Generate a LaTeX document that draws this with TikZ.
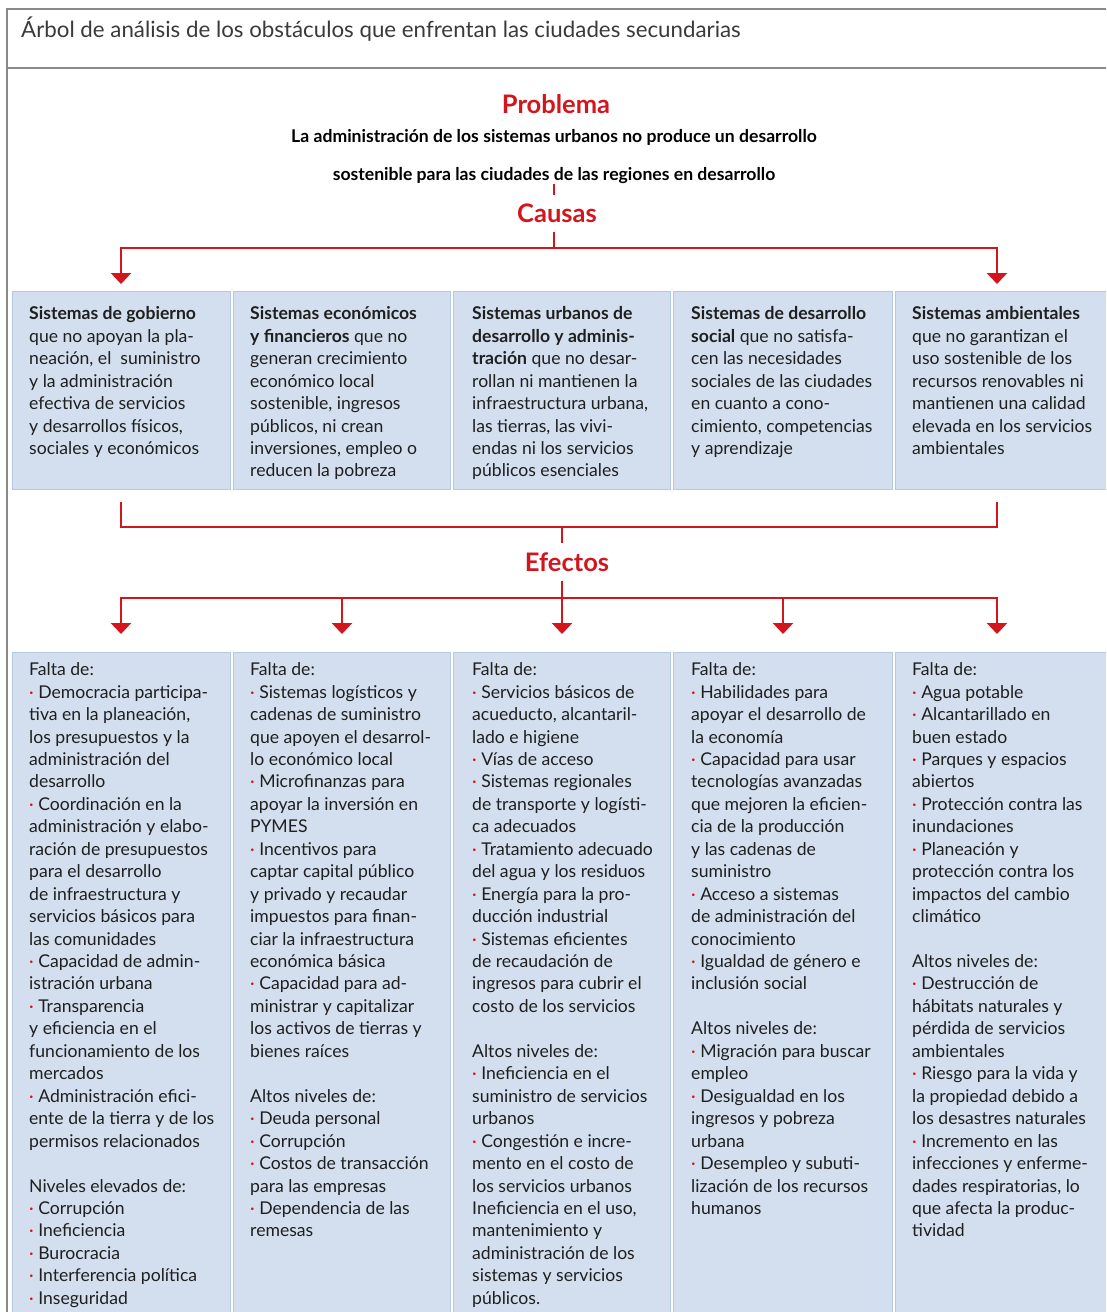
\documentclass[tikz,border=0pt]{standalone}
\usepackage{fontspec}
\setmainfont{Lato}
\usetikzlibrary{arrows.meta}
\definecolor{cred}{HTML}{D2161E}
\definecolor{cfill}{HTML}{D3DFEE}
\definecolor{cedge}{HTML}{B5C9E2}
\definecolor{cframe}{HTML}{8A8A8A}
\definecolor{ctitle}{HTML}{3A3A3A}
\newcommand{\bul}{\textcolor{cred}{·}~}
\begin{document}
\begin{tikzpicture}[x=1pt,y=-1pt,
  frameline/.style={draw=cframe, line width=1.4pt},
  colbox/.style={draw=cedge, fill=cfill, line width=1.3pt, inner sep=0pt, anchor=north west},
  coltext/.style={anchor=north west, inner sep=0pt, align=left, text=black!88, font=\fontsize{17.6}{22.45}\selectfont},
  redline/.style={draw=cred, line width=2.6pt},
  redarrow/.style={redline, -{Triangle[width=20pt,length=11pt]}},
  heading/.style={text=cred, font=\bfseries\fontsize{25.5}{28}\selectfont, inner sep=0pt, text height=18pt, text depth=0pt, minimum height=37pt}
]
\useasboundingbox (0,0) rectangle (1106,1312);
\clip (0,0) rectangle (1106,1312);
\fill[white] (0,0) rectangle (1106,1312);
% frame
\draw[frameline] (1110,9) -- (7,9) -- (7,1320);
\draw[frameline] (7,68) -- (1110,68);
\node[anchor=west, inner sep=0pt, text=ctitle, font=\fontsize{22.3}{26}\selectfont] (title) at (21,29) {Árbol de análisis de los obstáculos que enfrentan las ciudades secundarias};

% problem
\node[heading] (problema) at (556,104) {Problema};
\node[align=center, inner sep=0pt, font=\bfseries\fontsize{17.6}{38}\selectfont] (prob) at (554,157) {La administración de los sistemas urbanos no produce un desarrollo\\sostenible para las ciudades de las regiones en desarrollo};
\node[heading] (causas) at (557,213.5) {Causas};

% cause boxes
\node[colbox, minimum width=218pt, minimum height=198pt] (c1) at (12,291) {};
\node[colbox, minimum width=217pt, minimum height=198pt] (c2) at (233,291) {};
\node[colbox, minimum width=217pt, minimum height=198pt] (c3) at (453,291) {};
\node[colbox, minimum width=219pt, minimum height=198pt] (c4) at (673,291) {};
\node[colbox, minimum width=220pt, minimum height=198pt] (c5) at (895,291) {};

\node[coltext] (c1t) at (29,306.5) {\textbf{Sistemas de gobierno}\\
que no apoyan la pla-\\
neación, el \ suministro\\
y la administración\\
efectiva de servicios\\
y desarrollos físicos,\\
sociales y económicos};
\node[coltext] (c2t) at (250,306.5) {\textbf{Sistemas económicos}\\
\textbf{y financieros} que no\\
generan crecimiento\\
económico local\\
sostenible, ingresos\\
públicos, ni crean\\
inversiones, empleo o\\
reducen la pobreza};
\node[coltext] (c3t) at (472,306.5) {\textbf{Sistemas urbanos de}\\
\textbf{desarrollo y adminis-}\\
\textbf{tración} que no desar-\\
rollan ni mantienen la\\
infraestructura urbana,\\
las tierras, las vivi-\\
endas ni los servicios\\
públicos esenciales};
\node[coltext] (c4t) at (691,306.5) {\textbf{Sistemas de desarrollo}\\
\textbf{social} que no satisfa-\\
cen las necesidades\\
sociales de las ciudades\\
en cuanto a cono-\\
cimiento, competencias\\
y aprendizaje};
\node[coltext] (c5t) at (912,306.5) {\textbf{Sistemas ambientales}\\
que no garantizan el\\
uso sostenible de los\\
recursos renovables ni\\
mantienen una calidad\\
elevada en los servicios\\
ambientales};

% cause connectors
\coordinate (j1) at (554,248);
\coordinate (t1) at (121,284);
\coordinate (t5) at (997,284);
\draw[redline] (prob.south) -- (prob.south |- causas.north);
\draw[redline] (causas.south -| j1) -- (j1);
\draw[redarrow] (j1) -| (t1);
\draw[redarrow] (j1) -| (t5);

% effects connectors
\node[heading] (efectos) at (567,562) {Efectos};
\coordinate (b1) at (121,502);
\coordinate (b5) at (997,502);
\coordinate (j2) at (562,527);
\coordinate (j3) at (562,598);
\draw[redline] (b1) |- (j2) -| (b5);
\draw[redline] (j2) -- (j2 |- efectos.north);
\draw[redline] (j3 |- efectos.south) -- (j3);
\coordinate (e1) at (121,634);
\coordinate (e2) at (342,634);
\coordinate (e3) at (562,634);
\coordinate (e4) at (783,634);
\coordinate (e5) at (997,634);
\draw[redarrow] (j3) -| (e1);
\draw[redarrow] (j3) -| (e2);
\draw[redarrow] (j3) -- (e3);
\draw[redarrow] (j3) -| (e4);
\draw[redarrow] (j3) -| (e5);

% effect boxes
\node[colbox, minimum width=218pt, minimum height=680pt] (f1) at (12,652) {};
\node[colbox, minimum width=217pt, minimum height=680pt] (f2) at (233,652) {};
\node[colbox, minimum width=217pt, minimum height=680pt] (f3) at (453,652) {};
\node[colbox, minimum width=219pt, minimum height=680pt] (f4) at (673,652) {};
\node[colbox, minimum width=220pt, minimum height=680pt] (f5) at (895,652) {};

\node[coltext] (f1t) at (29,662.5) {Falta de:\\
\bul Democracia participa-\\
tiva en la planeación,\\
los presupuestos y la\\
administración del\\
desarrollo\\
\bul Coordinación en la\\
administración y elabo-\\
ración de presupuestos\\
para el desarrollo\\
de infraestructura y\\
servicios básicos para\\
las comunidades\\
\bul Capacidad de admin-\\
istración urbana\\
\bul Transparencia\\
y eficiencia en el\\
funcionamiento de los\\
mercados\\
\bul Administración efici-\\
ente de la tierra y de los\\
permisos relacionados\\[22.45pt]
Niveles elevados de:\\
\bul Corrupción\\
\bul Ineficiencia\\
\bul Burocracia\\
\bul Interferencia política\\
\bul Inseguridad};

\node[coltext] (f2t) at (250,662.5) {Falta de:\\
\bul Sistemas logísticos y\\
cadenas de suministro\\
que apoyen el desarrol-\\
lo económico local\\
\bul Microfinanzas para\\
apoyar la inversión en\\
PYMES\\
\bul Incentivos para\\
captar capital público\\
y privado y recaudar\\
impuestos para finan-\\
ciar la infraestructura\\
económica básica\\
\bul Capacidad para ad-\\
ministrar y capitalizar\\
los activos de tierras y\\
bienes raíces\\[22.45pt]
Altos niveles de:\\
\bul Deuda personal\\
\bul Corrupción\\
\bul Costos de transacción\\
para las empresas\\
\bul Dependencia de las\\
remesas};

\node[coltext] (f3t) at (472,662.5) {Falta de:\\
\bul Servicios básicos de\\
acueducto, alcantaril-\\
lado e higiene\\
\bul Vías de acceso\\
\bul Sistemas regionales\\
de transporte y logísti-\\
ca adecuados\\
\bul Tratamiento adecuado\\
del agua y los residuos\\
\bul Energía para la pro-\\
ducción industrial\\
\bul Sistemas eficientes\\
de recaudación de\\
ingresos para cubrir el\\
costo de los servicios\\[22.45pt]
Altos niveles de:\\
\bul Ineficiencia en el\\
suministro de servicios\\
urbanos\\
\bul Congestión e incre-\\
mento en el costo de\\
los servicios urbanos\\
Ineficiencia en el uso,\\
mantenimiento y\\
administración de los\\
sistemas y servicios\\
públicos.};

\node[coltext] (f4t) at (691,662.5) {Falta de:\\
\bul Habilidades para\\
apoyar el desarrollo de\\
la economía\\
\bul Capacidad para usar\\
tecnologías avanzadas\\
que mejoren la eficien-\\
cia de la producción\\
y las cadenas de\\
suministro\\
\bul Acceso a sistemas\\
de administración del\\
conocimiento\\
\bul Igualdad de género e\\
inclusión social\\[22.45pt]
Altos niveles de:\\
\bul Migración para buscar\\
empleo\\
\bul Desigualdad en los\\
ingresos y pobreza\\
urbana\\
\bul Desempleo y subuti-\\
lización de los recursos\\
humanos};

\node[coltext] (f5t) at (912,662.5) {Falta de:\\
\bul Agua potable\\
\bul Alcantarillado en\\
buen estado\\
\bul Parques y espacios\\
abiertos\\
\bul Protección contra las\\
inundaciones\\
\bul Planeación y\\
protección contra los\\
impactos del cambio\\
climático\\[22.45pt]
Altos niveles de:\\
\bul Destrucción de\\
hábitats naturales y\\
pérdida de servicios\\
ambientales\\
\bul Riesgo para la vida y\\
la propiedad debido a\\
los desastres naturales\\
\bul Incremento en las\\
infecciones y enferme-\\
dades respiratorias, lo\\
que afecta la produc-\\
tividad};
\end{tikzpicture}
\end{document}
